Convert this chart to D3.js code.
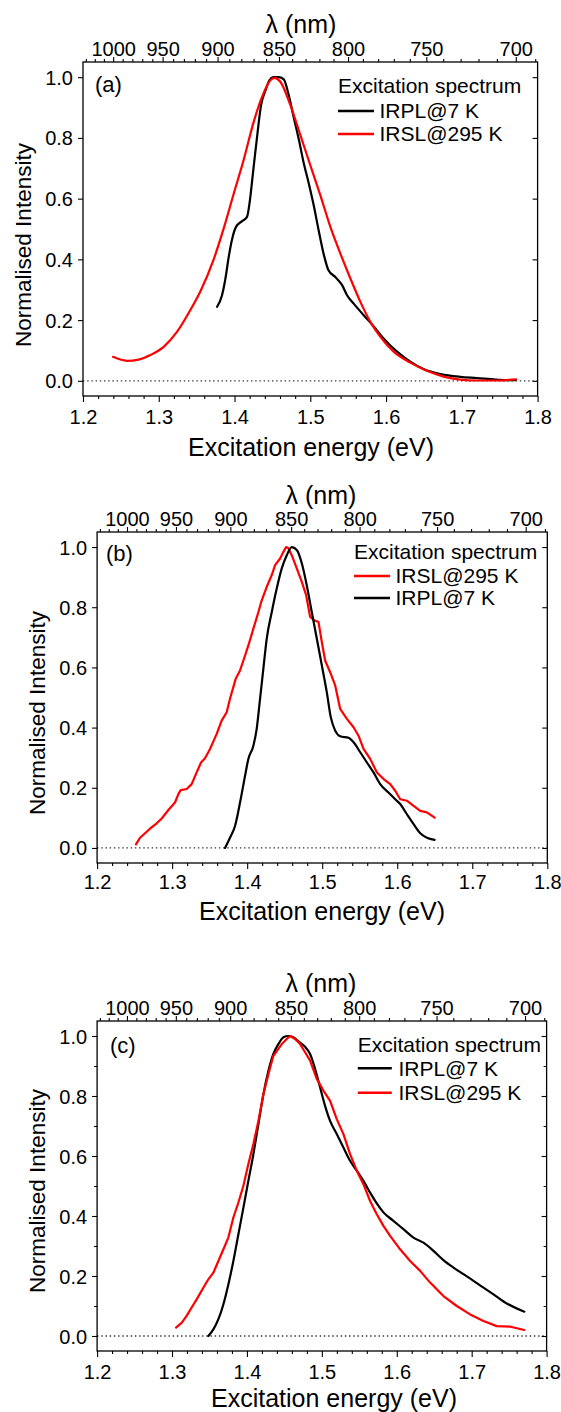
<!DOCTYPE html>
<html><head><meta charset="utf-8">
<script src="https://cdn.jsdelivr.net/npm/d3@7"></script>
<style>
body{margin:0;background:#fff}
svg{display:block}
text{font-family:"Liberation Sans",Arial,sans-serif;fill:#000}
</style>
</head><body>
<svg id="chart" width="561" height="1412"></svg>
<script>
// ---------------- data ----------------
const energyTicks = [1.2, 1.3, 1.4, 1.5, 1.6, 1.7, 1.8];
const valueTicks = [0.0, 0.2, 0.4, 0.6, 0.8, 1.0];
const lambdaTicks = [1000, 950, 900, 850, 800, 750, 700];
const lambdaMinor = [690,710,720,730,740,760,770,780,790,810,820,830,840,860,870,880,890,910,920,930,940,960,970,980,990,1010,1020,1030];
const panelLabels = ["(a)", "(b)", "(c)"];
const legendTitle = "Excitation spectrum";
const irplName = "IRPL@7 K";
const irslName = "IRSL@295 K";

// panel (a)
const aIRPL_E = [1.377,1.3835,1.388,1.392,1.397,1.402,1.410,1.4165,1.420,1.424,1.430,1.435,1.441,1.446,1.451,1.458,1.465,1.4715,1.478,1.485,1.491,1.498,1.5045,1.511,1.518,1.524,1.533,1.542,1.5485,1.557,1.5705,1.584,1.597,1.6145,1.632,1.650,1.672,1.698,1.720,1.745,1.771];
const aIRPL_I = [0.244,0.282,0.337,0.403,0.469,0.507,0.526,0.540,0.589,0.677,0.809,0.908,0.957,0.990,1.0,1.0,0.993,0.941,0.869,0.793,0.721,0.650,0.578,0.496,0.414,0.364,0.342,0.315,0.282,0.255,0.216,0.178,0.139,0.096,0.063,0.038,0.022,0.013,0.009,0.004,0.002];
const aIRSL_E = [1.2396,1.258,1.2735,1.289,1.3065,1.324,1.3417,1.355,1.3725,1.3857,1.399,1.412,1.4253,1.4363,1.4473,1.4526,1.4605,1.4737,1.4869,1.500,1.5133,1.5265,1.5397,1.5529,1.5661,1.5793,1.5925,1.610,1.632,1.654,1.676,1.698,1.720,1.745,1.7716];
const aIRSL_I = [0.079,0.066,0.070,0.085,0.112,0.161,0.233,0.295,0.400,0.502,0.617,0.727,0.853,0.935,0.990,0.998,0.985,0.908,0.809,0.710,0.611,0.507,0.419,0.337,0.260,0.194,0.145,0.096,0.060,0.033,0.014,0.004,0.001,0.001,0.005];

// panel (b)
const bIRSL_E = [1.2518,1.2572,1.2639,1.2705,1.2794,1.2861,1.295,1.3038,1.3083,1.3114,1.3194,1.326,1.3327,1.3385,1.3438,1.3505,1.3594,1.366,1.3727,1.3771,1.3847,1.3905,1.395,1.4016,1.4083,1.415,1.4194,1.4261,1.4328,1.4372,1.4439,1.4483,1.4519,1.455,1.4594,1.4661,1.4728,1.4786,1.4839,1.4892,1.4951,1.4995,1.5039,1.5106,1.5173,1.524,1.5329,1.5418,1.5484,1.5551,1.564,1.5729,1.5818,1.5907,1.5973,1.604,1.6129,1.6218,1.6307,1.6396,1.6498];
const bIRSL_I = [0.012,0.034,0.049,0.064,0.082,0.098,0.126,0.151,0.179,0.192,0.196,0.212,0.251,0.284,0.298,0.329,0.379,0.423,0.451,0.496,0.562,0.590,0.623,0.673,0.729,0.784,0.823,0.868,0.907,0.940,0.962,0.984,1.0,0.996,0.973,0.929,0.884,0.840,0.768,0.757,0.751,0.684,0.623,0.584,0.540,0.462,0.429,0.401,0.373,0.329,0.296,0.251,0.229,0.212,0.190,0.162,0.157,0.140,0.123,0.118,0.101];
const bIRPL_E = [1.3705,1.3771,1.3838,1.3905,1.3972,1.4016,1.4083,1.4127,1.4172,1.4216,1.4261,1.4328,1.4394,1.4461,1.4528,1.4594,1.4661,1.4728,1.4794,1.4861,1.4928,1.4995,1.5061,1.5115,1.5173,1.524,1.5351,1.5418,1.5507,1.5596,1.5684,1.5773,1.5884,1.5973,1.604,1.6129,1.6218,1.6307,1.6396,1.6498];
const bIRPL_I = [0.0,0.034,0.073,0.151,0.240,0.296,0.340,0.396,0.496,0.596,0.696,0.784,0.862,0.929,0.973,1.0,0.990,0.946,0.873,0.784,0.696,0.607,0.518,0.434,0.390,0.371,0.366,0.351,0.318,0.284,0.251,0.212,0.184,0.162,0.146,0.112,0.079,0.049,0.034,0.027];

// panel (c)
const cIRPL_E = [1.3485,1.3552,1.3619,1.3686,1.3752,1.3819,1.3886,1.3953,1.4019,1.4086,1.4153,1.422,1.4287,1.4353,1.442,1.4487,1.4553,1.462,1.4687,1.4776,1.4843,1.491,1.4976,1.5042,1.511,1.5199,1.5288,1.5377,1.5466,1.5555,1.5644,1.5733,1.5822,1.5955,1.6089,1.6223,1.6356,1.649,1.6623,1.6757,1.689,1.7024,1.7158,1.7291,1.7425,1.7702];
const cIRPL_I = [0.0,0.022,0.056,0.106,0.172,0.250,0.339,0.428,0.517,0.606,0.706,0.806,0.884,0.940,0.973,0.996,1.0,0.996,0.982,0.964,0.940,0.890,0.829,0.768,0.717,0.673,0.628,0.584,0.551,0.517,0.478,0.442,0.412,0.384,0.356,0.328,0.311,0.284,0.253,0.228,0.206,0.184,0.161,0.139,0.115,0.081];
const cIRSL_E = [1.3053,1.3128,1.3195,1.3262,1.3329,1.3418,1.3485,1.3552,1.3619,1.3686,1.3752,1.3819,1.3886,1.3953,1.4019,1.4086,1.4153,1.422,1.4287,1.4353,1.442,1.4465,1.4531,1.4576,1.4643,1.471,1.4776,1.4843,1.4932,1.5021,1.511,1.5199,1.5288,1.5377,1.5466,1.5555,1.5644,1.5733,1.5822,1.5911,1.6045,1.6178,1.6312,1.6445,1.6623,1.6801,1.6979,1.7157,1.7335,1.7519,1.7702];
const cIRSL_I = [0.028,0.044,0.067,0.095,0.122,0.161,0.189,0.211,0.250,0.289,0.328,0.395,0.445,0.501,0.573,0.640,0.717,0.806,0.873,0.934,0.957,0.973,0.990,1.0,0.990,0.973,0.946,0.918,0.857,0.818,0.784,0.723,0.673,0.606,0.551,0.506,0.450,0.406,0.367,0.334,0.289,0.250,0.217,0.178,0.133,0.100,0.072,0.050,0.033,0.031,0.020];

// ---------------- drawing ----------------
const HC = 1239.84;
const svg = d3.select("#chart");
const zip = (E, I) => E.map((e, i) => [e, I[i]]);

const panels = [
  { label: panelLabels[0], left: 83, right: 537.6, top: 62, bottom: 396,
    lamTitleX: 301, lamTitleY: 24, topTickY: 48.5, botTickY: 417.3, xTitleX: 311, xTitleY: 447,
    yTitleX: 23, yTitleY: 245, labelX: 95, labelY: 84.5,
    legX: 338, legTitleY: 86, legY: [111, 134], legLineW: 36, legTextX: 379.5,
    yMinor: false,
    series: [ { name: irplName, color: "#000", data: zip(aIRPL_E, aIRPL_I), smooth: true },
              { name: irslName, color: "#ff0000", data: zip(aIRSL_E, aIRSL_I), smooth: true } ] },
  { label: panelLabels[1], left: 97.1, right: 547.3, top: 532, bottom: 863,
    lamTitleX: 321, lamTitleY: 495, topTickY: 518.5, botTickY: 881.7, xTitleX: 322, xTitleY: 911.7,
    yTitleX: 37, yTitleY: 713, labelX: 106, labelY: 553,
    legX: 354, legTitleY: 551.7, legY: [576, 598], legLineW: 36, legTextX: 395.5,
    yMinor: false,
    series: [ { name: irslName, color: "#ff0000", data: zip(bIRSL_E, bIRSL_I), smooth: false },
              { name: irplName, color: "#000", data: zip(bIRPL_E, bIRPL_I), smooth: true } ] },
  { label: panelLabels[2], left: 97.1, right: 546.6, top: 1021, bottom: 1351,
    lamTitleX: 321, lamTitleY: 983.5, topTickY: 1008.3, botTickY: 1371.7, xTitleX: 334, xTitleY: 1398.3,
    yTitleX: 37, yTitleY: 1191, labelX: 110, labelY: 1045,
    legX: 357.8, legTitleY: 1045, legY: [1068.3, 1092.7], legLineW: 34, legTextX: 398.4,
    yMinor: true,
    series: [ { name: irplName, color: "#000", data: zip(cIRPL_E, cIRPL_I), smooth: true },
              { name: irslName, color: "#ff0000", data: zip(cIRSL_E, cIRSL_I), smooth: false } ] }
];

function styleAxis(sel) {
  sel.select(".domain").remove();
  sel.selectAll(".tick line").attr("stroke", "#000").attr("stroke-width", 1.1);
  sel.selectAll("text").style("font-family", '"Liberation Sans", Arial, sans-serif').attr("fill", "#000");
}

function drawPanel(p) {
  const g = svg.append("g");
  const x = d3.scaleLinear().domain([1.2, 1.8]).range([p.left, p.right]);
  const y = d3.scaleLinear().domain([-0.05, 1.05]).range([p.bottom, p.top]);

  // zero line (dotted)
  g.append("line")
    .attr("x1", p.left).attr("x2", p.right)
    .attr("y1", y(0)).attr("y2", y(0))
    .attr("stroke", "#333").attr("stroke-width", 1.3)
    .attr("stroke-dasharray", "1.4,2.8");

  // curves
  p.series.forEach(s => {
    const line = d3.line().x(d => x(d[0])).y(d => y(d[1]))
      .curve(s.smooth ? d3.curveMonotoneX : d3.curveLinear);
    g.append("path").datum(s.data)
      .attr("d", line).attr("fill", "none")
      .attr("stroke", s.color).attr("stroke-width", 2.2)
      .attr("stroke-linejoin", "round").attr("stroke-linecap", "round");
  });

  // bottom axis major
  const minorE = d3.range(1.2, 1.8001, 0.02).filter(v => Math.abs(Math.round(v * 10) - v * 10) > 0.01);
  const bot = g.append("g").attr("transform", `translate(0,${p.bottom})`)
    .call(d3.axisBottom(x).tickValues(energyTicks).tickSize(6).tickFormat(d3.format(".1f")));
  styleAxis(bot);
  bot.selectAll("text").attr("y", p.botTickY - p.bottom).attr("dy", "0.35em").style("font-size", "20px");
  const botMin = g.append("g").attr("transform", `translate(0,${p.bottom})`)
    .call(d3.axisBottom(x).tickValues(minorE).tickSize(3).tickFormat(""));
  styleAxis(botMin);

  // top axis (wavelength)
  const top = g.append("g").attr("transform", `translate(0,${p.top})`)
    .call(d3.axisTop(x).tickValues(lambdaTicks.map(l => HC / l)).tickSize(5)
      .tickFormat((d, i) => lambdaTicks[i]));
  styleAxis(top);
  top.selectAll("text").attr("y", p.topTickY - p.top).attr("dy", "0.35em").style("font-size", "20px");
  const topMin = g.append("g").attr("transform", `translate(0,${p.top})`)
    .call(d3.axisTop(x).tickValues(lambdaMinor.map(l => HC / l)).tickSize(3).tickFormat(""));
  styleAxis(topMin);

  // left axis
  const left = g.append("g").attr("transform", `translate(${p.left},0)`)
    .call(d3.axisLeft(y).tickValues(valueTicks).tickSize(5).tickFormat(d3.format(".1f")));
  styleAxis(left);
  left.selectAll("text").attr("x", -10).attr("dy", "0.35em").style("font-size", "20px");

  // right axis (inward ticks)
  const right = g.append("g").attr("transform", `translate(${p.right},0)`)
    .call(d3.axisLeft(y).tickValues(valueTicks).tickSize(5).tickFormat(""));
  styleAxis(right);

  if (p.yMinor) {
    const minorV = [0.1, 0.3, 0.5, 0.7, 0.9];
    const lm = g.append("g").attr("transform", `translate(${p.left},0)`)
      .call(d3.axisLeft(y).tickValues(minorV).tickSize(3).tickFormat(""));
    styleAxis(lm);
    const rm = g.append("g").attr("transform", `translate(${p.right},0)`)
      .call(d3.axisLeft(y).tickValues(minorV).tickSize(3).tickFormat(""));
    styleAxis(rm);
  }

  // frame
  g.append("rect")
    .attr("x", p.left).attr("y", p.top)
    .attr("width", p.right - p.left).attr("height", p.bottom - p.top)
    .attr("fill", "none").attr("stroke", "#000").attr("stroke-width", 1.3);

  // titles
  g.append("text").attr("x", p.lamTitleX).attr("y", p.lamTitleY).attr("dy", "0.35em")
    .attr("text-anchor", "middle").style("font-size", "25px").text("λ (nm)");
  g.append("text").attr("x", p.xTitleX).attr("y", p.xTitleY).attr("dy", "0.35em")
    .attr("text-anchor", "middle").style("font-size", "25px").text("Excitation energy (eV)");
  g.append("text").attr("transform", `translate(${p.yTitleX},${p.yTitleY}) rotate(-90)`)
    .attr("dy", "0.35em").attr("text-anchor", "middle").style("font-size", "22.5px")
    .text("Normalised Intensity");

  // panel label
  g.append("text").attr("x", p.labelX).attr("y", p.labelY).attr("dy", "0.35em")
    .style("font-size", "22px").text(p.label);

  // legend
  g.append("text").attr("x", p.legX).attr("y", p.legTitleY).attr("dy", "0.35em")
    .style("font-size", "21px").text(legendTitle);
  p.series.forEach((s, i) => {
    g.append("line").attr("x1", p.legX).attr("x2", p.legX + p.legLineW)
      .attr("y1", p.legY[i]).attr("y2", p.legY[i])
      .attr("stroke", s.color).attr("stroke-width", 2.6);
    g.append("text").attr("x", p.legTextX).attr("y", p.legY[i]).attr("dy", "0.35em")
      .style("font-size", "21px").text(s.name);
  });
}

panels.forEach(drawPanel);
</script>
</body></html>
